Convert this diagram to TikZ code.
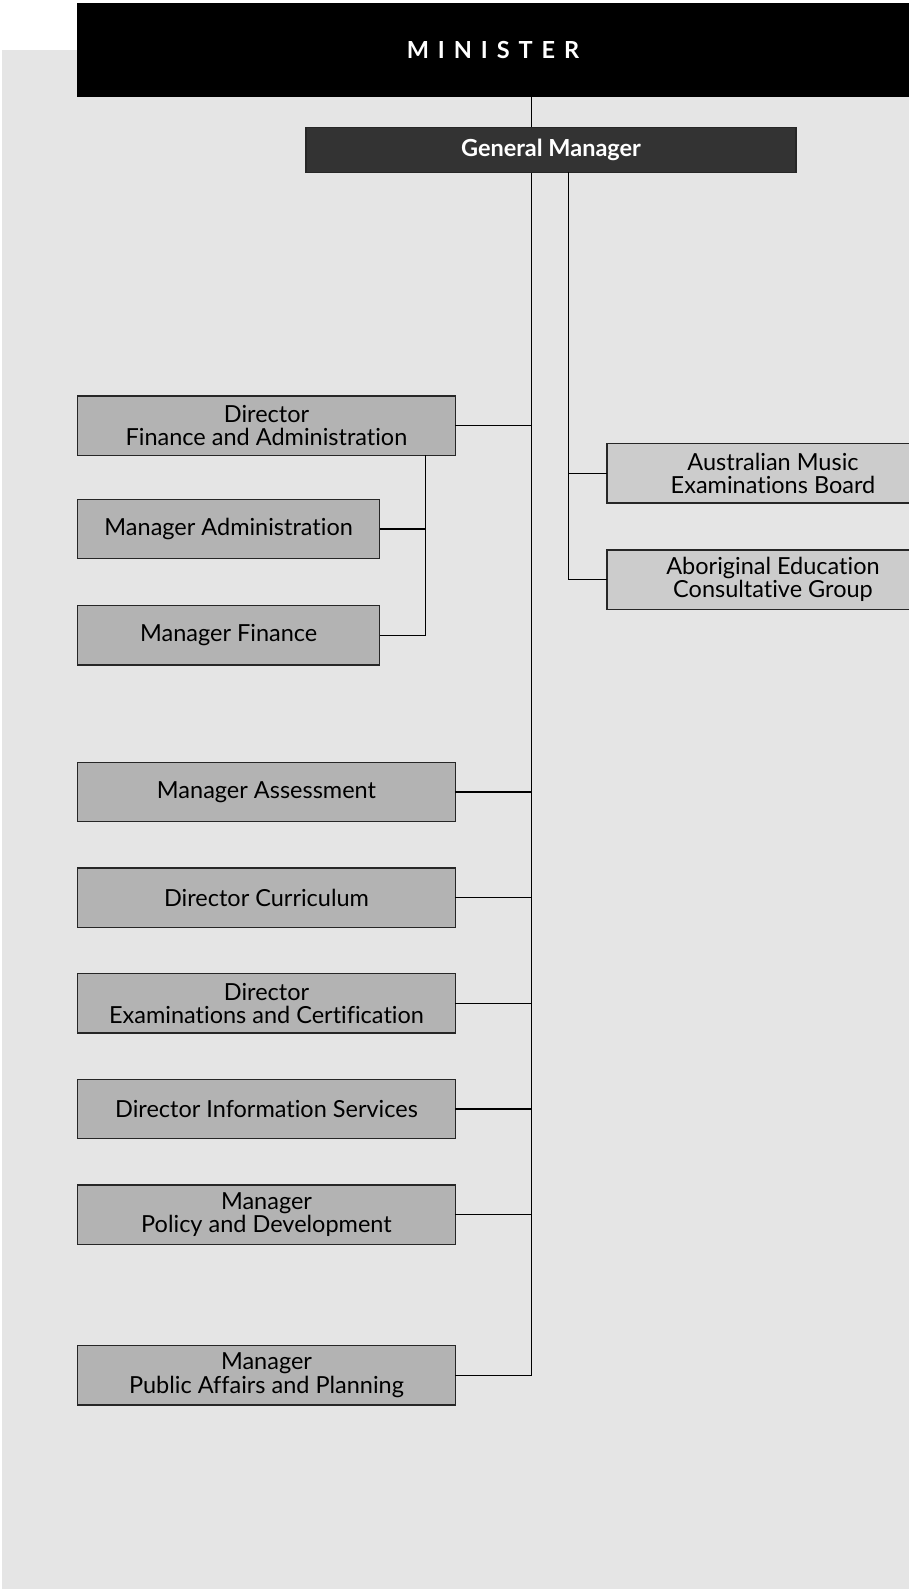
\documentclass[tikz,border=0pt]{standalone}
\usepackage{fontspec}
\setmainfont{Lato}[Ligatures=NoCommon]
\usepackage{tikz}
\usetikzlibrary{positioning}
\definecolor{Backdrop}{HTML}{E5E5E5}
\definecolor{UnitFill}{HTML}{B3B3B3}
\definecolor{SideFill}{HTML}{CCCCCC}
\definecolor{GMFill}{HTML}{333333}
\definecolor{Edge}{HTML}{262626}

\begin{document}
\begin{tikzpicture}[x=1pt,y=-1pt,node distance=46.4pt,
  every node/.style={font=\fontsize{23.5}{23.3}\selectfont,align=center,inner sep=0pt,outer sep=0pt},
  unit/.style={draw=Edge,line width=1.3pt,fill=UnitFill,minimum width=377.6pt,minimum height=59.3pt},
  subunit/.style={unit,minimum width=302pt},
  side/.style={unit,fill=SideFill,minimum width=332pt},
  link/.style={line width=1.2pt,draw=black}]
\useasboundingbox (0,0) rectangle (909,1589);
\fill[Backdrop] (2,50) rectangle (909,1589);
\node[fill=black,anchor=north west,minimum width=832pt,minimum height=94pt,text=white] (minister) at (77,3)
  {\bfseries\addfontfeature{LetterSpace=38}MINISTER};
\coordinate (trunk) at (531.5,1375.4);
\coordinate (sidetrunk) at (568.5,0);
\coordinate (subtrunk) at (425.3,0);
\draw[link] (minister.south -| trunk) -- (trunk);
\node[draw=Edge,line width=1.3pt,fill=GMFill,text=white,minimum width=490pt,minimum height=44.6pt] (gm) at (551,150)
  {\bfseries General Manager};
% left column
\node[unit,anchor=north west] (dfa) at (77.7,396) {Director\\Finance and Administration};
\node[subunit,below=44pt of dfa.south west,anchor=north west] (madm) {Manager Administration};
\node[subunit,below=47.1pt of madm.south west,anchor=north west] (mfin) {Manager Finance};
\node[unit,below=97.3pt of mfin.south west,anchor=north west] (mass) {Manager Assessment};
\node[unit,below=of mass] (dcur) {Director Curriculum};
\node[unit,below=of dcur] (dexam) {Director\\Examinations and Certification};
\node[unit,below=of dexam] (dinfo) {Director Information Services};
\node[unit,below=of dinfo] (mpol) {Manager\\Policy and Development};
\node[unit,below=101.3pt of mpol] (mpub) {Manager\\Public Affairs and Planning};
% right column
\node[side,anchor=west] (ameb) at (607,473.3) {Australian Music\\Examinations Board};
\node[side,anchor=west] (aec) at (607,579.5) {Aboriginal Education\\Consultative Group};
% connectors
\draw[link] (dfa.east) -- (dfa.east -| trunk);
\draw[link] (dfa.south -| subtrunk) |- (madm.east);
\draw[link] (dfa.south -| subtrunk) |- (mfin.east);
\draw[link] (mass.east) -- (mass.east -| trunk);
\draw[link] (dcur.east) -- (dcur.east -| trunk);
\draw[link] (dexam.east) -- (dexam.east -| trunk);
\draw[link] (dinfo.east) -- (dinfo.east -| trunk);
\draw[link] (mpol.east) -- (mpol.east -| trunk);
\draw[link] (mpub.east) -- (mpub.east -| trunk);
\draw[link] (gm.south -| sidetrunk) |- (ameb.west);
\draw[link] (gm.south -| sidetrunk) |- (aec.west);
\end{tikzpicture}
\end{document}
